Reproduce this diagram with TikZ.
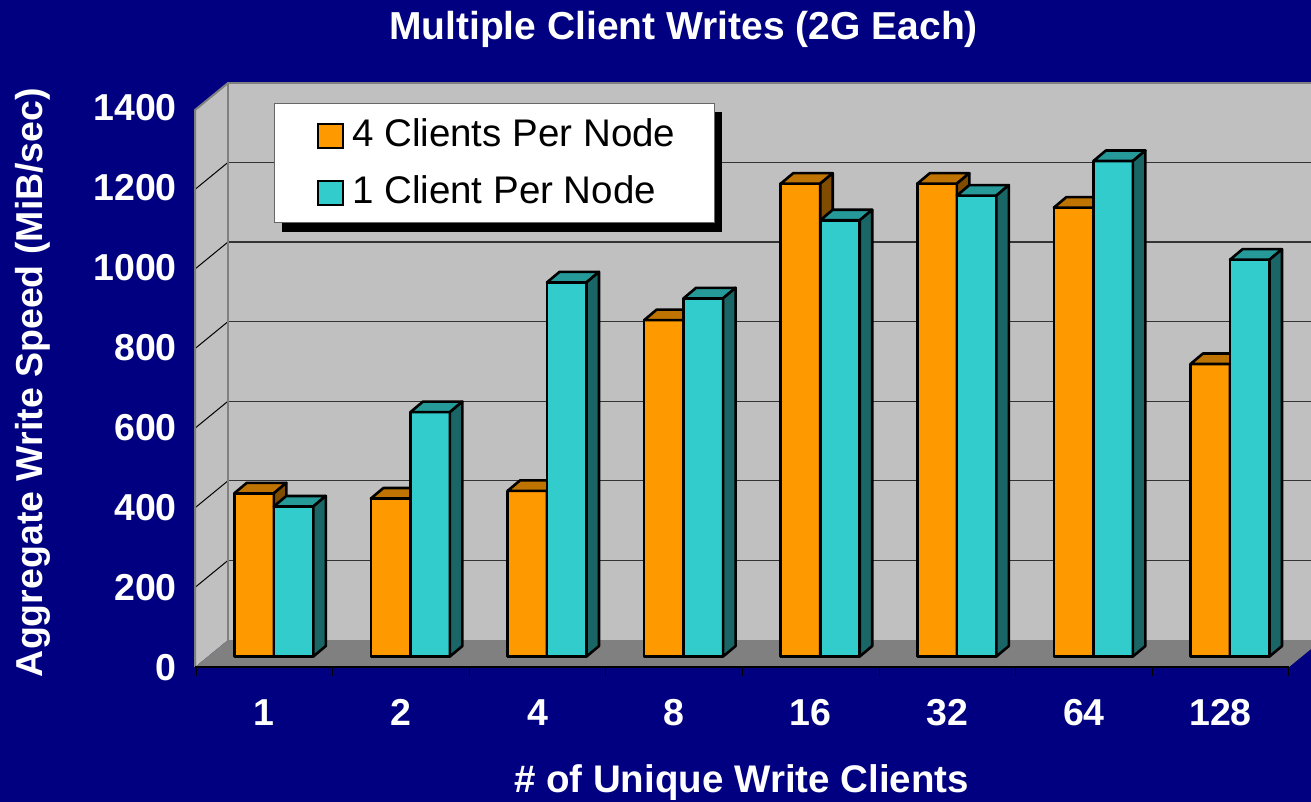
\documentclass[tikz,border=0pt]{standalone}
\usepackage{fontspec}
\setmainfont{Liberation Sans}
\definecolor{bgnavy}{RGB}{0,0,128}
\definecolor{wallgray}{RGB}{192,192,192}
\definecolor{floorgray}{RGB}{128,128,128}
\definecolor{orfront}{RGB}{255,153,0}
\definecolor{ortop}{RGB}{191,115,0}
\definecolor{orside}{RGB}{128,77,0}
\definecolor{cyfront}{RGB}{51,204,204}
\definecolor{cytop}{RGB}{38,153,153}
\definecolor{cyside}{RGB}{26,102,102}
\newcommand\chartbar[5]{%
  \pgfmathsetmacro\bx{#1}%
  \pgfmathsetmacro\bh{656.5-#2*0.398}%
  \pgfmathsetmacro\bxr{\bx+39.5}%
  \pgfmathsetmacro\bxb{\bx+12.5}%
  \pgfmathsetmacro\bxrb{\bx+52}%
  \pgfmathsetmacro\bhb{\bh-10.5}%
  \filldraw[barline,fill=#3] (\bx,656.5) rectangle (\bxr,\bh);
  \filldraw[barline,fill=#4] (\bx,\bh) -- (\bxb,\bhb) -- (\bxrb,\bhb) -- (\bxr,\bh) -- cycle;
  \filldraw[barline,fill=#5] (\bxr,656.5) -- (\bxr,\bh) -- (\bxrb,\bhb) -- (\bxrb,646) -- cycle;
}
\tikzset{
  barline/.style={draw=black,line width=2.6pt,line join=round},
  edgegray/.style={draw=floorgray,line width=2pt},
  gridline/.style={draw=black!80,line width=1.2pt},
  sidegrid/.style={draw=black,line width=1pt},
  ticklab/.style={text=white,font=\bfseries\fontsize{37.5}{37.5}\selectfont,inner sep=0pt},
  legtext/.style={text=black,font=\fontsize{38.5}{38.5}\selectfont,inner sep=0pt,anchor=base west},
  legsq/.style={draw=black,line width=1.5pt},
}
\begin{document}
\begin{tikzpicture}[x=1pt,y=-1pt]
\useasboundingbox (0,0) rectangle (1311,802);
\clip (0,0) rectangle (1311,802);
\fill[bgnavy] (0,0) rectangle (1311,802);
% walls and floor
\fill[wallgray] (195,667) -- (228,640) -- (228,83) -- (195,110) -- cycle;
\fill[wallgray] (228,640) rectangle (1330,83);
\fill[floorgray] (195,667) -- (1289,667) -- (1322,640) -- (228,640) -- cycle;
% gridlines
\foreach \v in {200,400,...,1200} {
  \pgfmathsetmacro\gb{640-\v*0.398}
  \pgfmathsetmacro\gf{667-\v*0.398}
  \draw[gridline] (228,\gb) -- (1330,\gb);
  \draw[sidegrid] (195,\gf) -- (228,\gb);
}
% wall edges
\draw[edgegray] (228,640) -- (228,83) -- (1330,83);
\draw[edgegray] (195,667) -- (195,110) -- (228,83);
\draw[black,line width=1.5pt] (195,667) -- (1289,667);
\foreach \i in {0,...,8} {
  \pgfmathsetmacro\tx{196+136.6*\i}
  \draw[black,line width=1pt] (\tx,667) -- (\tx,676);
}
% bars
\foreach \i/\a/\b in {0/410/377,1/397/614,2/416/940,3/845/900,4/1188/1096,5/1188/1158,6/1128/1245,7/735/997} {
  \pgfmathsetmacro\cc{196+136.6*(\i+0.5)+9.5}
  \pgfmathsetmacro\ol{\cc-39.5}
  \chartbar{\ol}{\a}{orfront}{ortop}{orside}
  \chartbar{\cc}{\b}{cyfront}{cytop}{cyside}
}
% legend
\fill[black] (282,112) rectangle (722,232);
\filldraw[fill=white,draw=black!60,line width=1pt] (274,104) rectangle (714,223);
\filldraw[legsq,fill=orfront] (318,124) rectangle (343,148);
\filldraw[legsq,fill=cyfront] (318,181) rectangle (343,205);
\node[legtext] (l1) at (352,146.7) {4 Clients Per Node};
\node[legtext] (l2) at (352,203.3) {1 Client Per Node};
% title
\node[text=white,font=\bfseries\fontsize{39}{39}\selectfont,anchor=base,inner sep=0pt] (title) at (683.5,40) {Multiple Client Writes (2G Each)};
% y tick labels
\foreach \v in {0,200,...,1400} {
  \pgfmathsetmacro\ly{667-\v*0.3993+13}
  \node[ticklab,anchor=base east] at (177,\ly) {\v};
}
% x labels
\foreach \i/\t in {0/1,1/2,2/4,3/8,4/16,5/32,6/64,7/128} {
  \pgfmathsetmacro\lx{196+136.6*(\i+0.5)}
  \node[ticklab,anchor=base] at (\lx,725) {\t};
}
\node[ticklab,anchor=base,font=\bfseries\fontsize{38.5}{38.5}\selectfont] (xtitle) at (741.5,792.7) {\# of Unique Write Clients};
\node[ticklab,anchor=base,rotate=90] (ytitle) at (42,382.5) {Aggregate Write Speed (MiB/sec)};
\end{tikzpicture}
\end{document}
